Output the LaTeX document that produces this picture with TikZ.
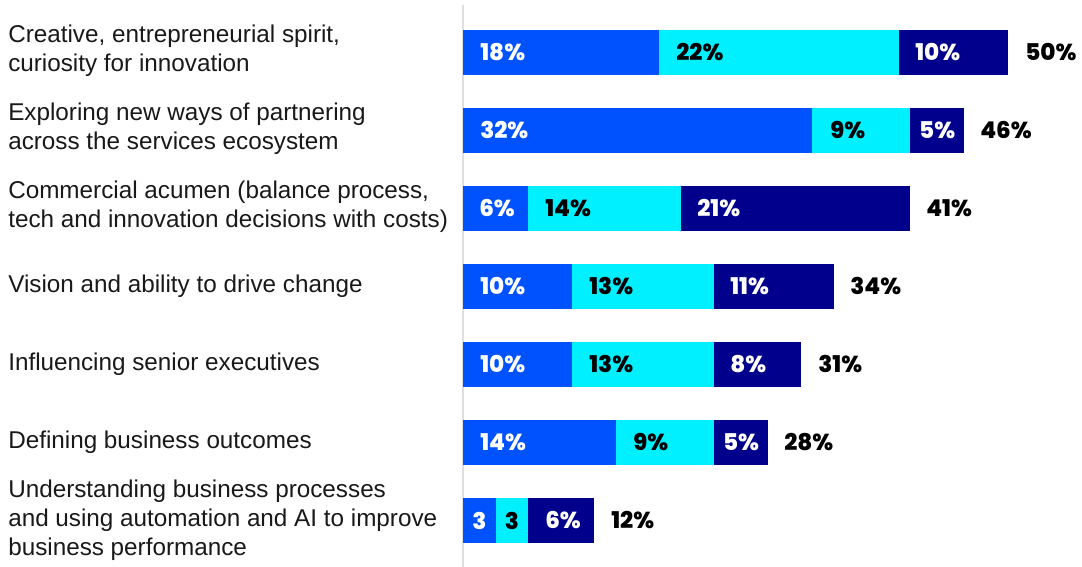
\documentclass[tikz,border=0pt]{standalone}
\usepackage{fontspec}
\setmainfont{Liberation Sans}
\newfontfamily\numf{Poppins}[BoldFont={Poppins ExtraBold}]
\definecolor{cblue}{RGB}{0,82,255}
\definecolor{ccyan}{RGB}{0,240,255}
\definecolor{cnavy}{RGB}{0,0,140}
\definecolor{caxis}{RGB}{222,222,222}
\begin{document}
\begin{tikzpicture}[x=0.75pt,y=-0.75pt,
  cat/.style={anchor=west,align=left,inner sep=0pt,font=\fontsize{18.2}{21.8}\selectfont,text=black!90},
  valw/.style={anchor=west,inner sep=0pt,text=white,font=\numf\bfseries\fontsize{17.3}{18}\selectfont},
  valb/.style={anchor=west,inner sep=0pt,text=black,font=\numf\bfseries\fontsize{17.3}{18}\selectfont},
  cvalw/.style={valw,anchor=center},
  cvalb/.style={valb,anchor=center},
  tot/.style={valb}]
\useasboundingbox (0,0) rectangle (1082,567);
\fill[white] (0,0) rectangle (1082,567);
\coordinate (axtop) at (463,5);
\coordinate (axbot) at (463,567);
\draw[caxis,line width=1.5pt] (axtop) -- (axbot);
% Row 1
\fill[cblue] (463,30) rectangle (659.2,75);
\fill[ccyan] (659.2,30) rectangle (899,75);
\fill[cnavy] (899,30) rectangle (1008,75);
\node[cat] (c1) at (8,51) {Creative, entrepreneurial spirit,\\curiosity for innovation};
\node[valw] (v1a) at (480,52.5) {18\%};
\node[valb] (v1b) at (676,52.5) {22\%};
\node[valw] (v1c) at (915,52.5) {10\%};
\node[tot] (t1) at (1025,52.5) {50\%};
% Row 2
\fill[cblue] (463,108) rectangle (811.8,153);
\fill[ccyan] (811.8,108) rectangle (910,153);
\fill[cnavy] (910,108) rectangle (964.4,153);
\node[cat] (c2) at (8,129) {Exploring new ways of partnering\\across the services ecosystem};
\node[valw] (v2a) at (480,130.5) {32\%};
\node[valb] (v2b) at (830,130.5) {9\%};
\node[cvalw] (v2c) at (937.2,130.5) {5\%};
\node[tot] (t2) at (980,130.5) {46\%};
% Row 3
\fill[cblue] (463,186) rectangle (528.4,231);
\fill[ccyan] (528.4,186) rectangle (681,231);
\fill[cnavy] (681,186) rectangle (909.9,231);
\node[cat] (c3) at (8,207) {Commercial acumen (balance process,\\tech and innovation decisions with costs)};
\node[cvalw] (v3a) at (497,208.5) {6\%};
\node[valb] (v3b) at (545,208.5) {14\%};
\node[valw] (v3c) at (697,208.5) {21\%};
\node[tot] (t3) at (926,208.5) {41\%};
% Row 4
\fill[cblue] (463,264) rectangle (572,309);
\fill[ccyan] (572,264) rectangle (713.7,309);
\fill[cnavy] (713.7,264) rectangle (833.6,309);
\node[cat] (c4) at (8,286.5) {Vision and ability to drive change};
\node[valw] (v4a) at (480,286.5) {10\%};
\node[valb] (v4b) at (589,286.5) {13\%};
\node[valw] (v4c) at (730,286.5) {11\%};
\node[tot] (t4) at (850,286.5) {34\%};
% Row 5
\fill[cblue] (463,342) rectangle (572,387);
\fill[ccyan] (572,342) rectangle (713.7,387);
\fill[cnavy] (713.7,342) rectangle (801,387);
\node[cat] (c5) at (8,364.5) {Influencing senior executives};
\node[valw] (v5a) at (480,364.5) {10\%};
\node[valb] (v5b) at (589,364.5) {13\%};
\node[valw] (v5c) at (730,364.5) {8\%};
\node[tot] (t5) at (818,364.5) {31\%};
% Row 6
\fill[cblue] (463,420) rectangle (615.6,465);
\fill[ccyan] (615.6,420) rectangle (713.7,465);
\fill[cnavy] (713.7,420) rectangle (768.2,465);
\node[cat] (c6) at (8,442.5) {Defining business outcomes};
\node[valw] (v6a) at (480,442.5) {14\%};
\node[valb] (v6b) at (633,442.5) {9\%};
\node[cvalw] (v6c) at (741,442.5) {5\%};
\node[tot] (t6) at (784,442.5) {28\%};
% Row 7
\fill[cblue] (463,498) rectangle (495.7,543);
\fill[ccyan] (495.7,498) rectangle (528.4,543);
\fill[cnavy] (528.4,498) rectangle (594,543);
\node[cat] (c7) at (8,520) {Understanding business processes\\and using automation and AI to improve\\business performance};
\node[cvalw] (v7a) at (479.4,520.5) {3};
\node[cvalb] (v7b) at (512,520.5) {3};
\node[valw] (v7c) at (545,520.5) {6\%};
\node[tot] (t7) at (611,520.5) {12\%};
\end{tikzpicture}
\end{document}
